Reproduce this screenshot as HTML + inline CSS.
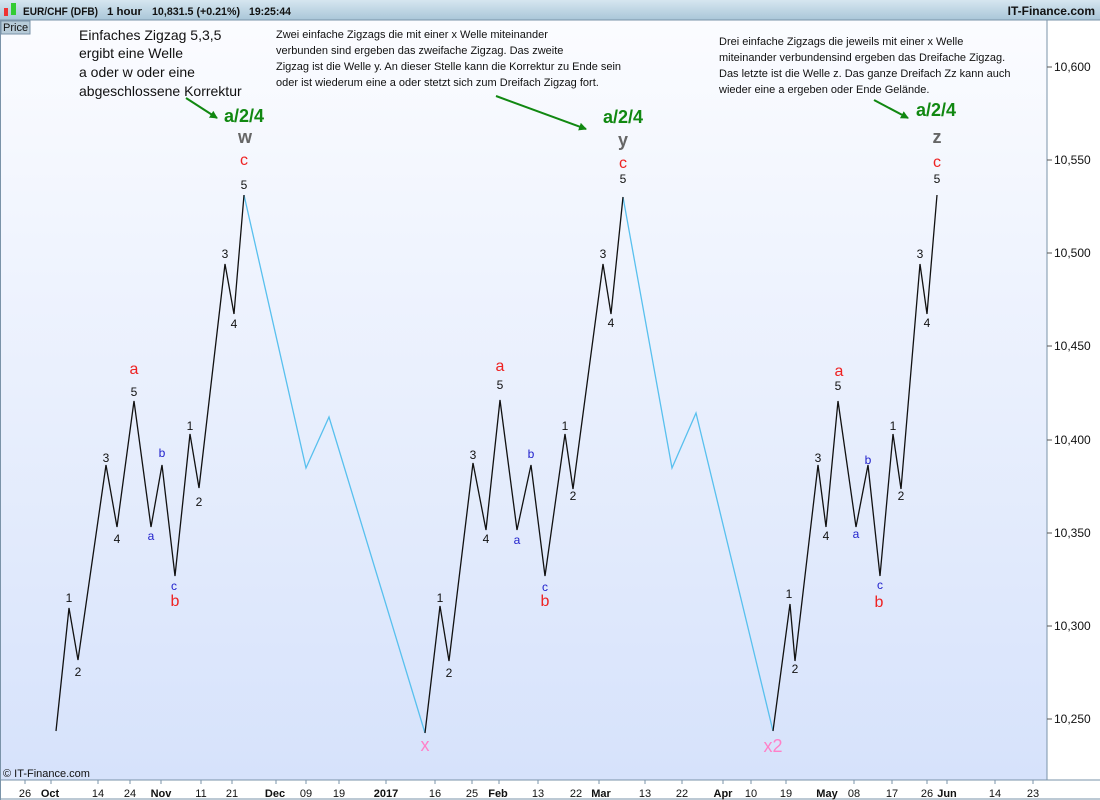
<!DOCTYPE html>
<html><head><meta charset="utf-8"><style>
html,body{margin:0;padding:0;width:1100px;height:800px;overflow:hidden;background:#fff;font-family:"Liberation Sans",sans-serif}
</style></head><body>
<svg width="1100" height="800" xmlns="http://www.w3.org/2000/svg" font-family="Liberation Sans, sans-serif">
<defs>
<linearGradient id="bg" x1="0" y1="0" x2="0" y2="1"><stop offset="0" stop-color="#fbfcff"/><stop offset="1" stop-color="#d6e2fb"/></linearGradient>
<linearGradient id="hd" x1="0" y1="0" x2="0" y2="1"><stop offset="0" stop-color="#d6e6f0"/><stop offset="1" stop-color="#a9c6d8"/></linearGradient>
<marker id="ah" markerWidth="8" markerHeight="8" refX="7" refY="4" orient="auto" markerUnits="userSpaceOnUse"><path d="M0,0 L8,4 L0,8 z" fill="#118811"/></marker>
</defs>
<rect width="1100" height="800" fill="#fff"/>
<rect x="1" y="20" width="1046" height="760" fill="url(#bg)"/>
<rect x="0" y="0" width="1100" height="20" fill="url(#hd)"/>
<line x1="0" y1="20" x2="1100" y2="20" stroke="#7a93a8"/>
<rect x="4" y="8" width="4" height="8" fill="#e33"/><rect x="11" y="3" width="5" height="12" fill="#3c3"/>
<g font-size="11" font-weight="bold" fill="#111">
<text x="23" y="15" textLength="75" lengthAdjust="spacingAndGlyphs">EUR/CHF (DFB)</text><text x="107" y="15" textLength="35" lengthAdjust="spacingAndGlyphs">1 hour</text><text x="152" y="15" textLength="88" lengthAdjust="spacingAndGlyphs">10,831.5 (+0.21%)</text><text x="249" y="15" textLength="42" lengthAdjust="spacingAndGlyphs">19:25:44</text>
</g>
<text x="1095" y="15" font-size="12" font-weight="bold" fill="#111" text-anchor="end">IT-Finance.com</text>
<rect x="1" y="21" width="29" height="13" fill="#b7cbd8" stroke="#7a93a8"/>
<text x="3" y="31" font-size="11" fill="#111">Price</text>
<line x1="1047" y1="20" x2="1047" y2="780" stroke="#7a93a8"/>
<line x1="0" y1="780" x2="1100" y2="780" stroke="#7a93a8"/>
<line x1="0" y1="799" x2="1100" y2="799" stroke="#7a93a8"/>
<rect x="0" y="20" width="1" height="780" fill="#7a93a8"/>
<g font-size="12" fill="#111">
<line x1="1047" y1="67" x2="1052" y2="67" stroke="#555"/><text x="1054" y="71">10,600</text>
<line x1="1047" y1="160" x2="1052" y2="160" stroke="#555"/><text x="1054" y="164">10,550</text>
<line x1="1047" y1="253" x2="1052" y2="253" stroke="#555"/><text x="1054" y="257">10,500</text>
<line x1="1047" y1="346" x2="1052" y2="346" stroke="#555"/><text x="1054" y="350">10,450</text>
<line x1="1047" y1="440" x2="1052" y2="440" stroke="#555"/><text x="1054" y="444">10,400</text>
<line x1="1047" y1="533" x2="1052" y2="533" stroke="#555"/><text x="1054" y="537">10,350</text>
<line x1="1047" y1="626" x2="1052" y2="626" stroke="#555"/><text x="1054" y="630">10,300</text>
<line x1="1047" y1="719" x2="1052" y2="719" stroke="#555"/><text x="1054" y="723">10,250</text>
</g>
<g font-size="11" fill="#111" text-anchor="middle">
<text x="25" y="797">26</text><text x="50" y="797" font-weight="bold">Oct</text><text x="98" y="797">14</text><text x="130" y="797">24</text><text x="161" y="797" font-weight="bold">Nov</text><text x="201" y="797">11</text><text x="232" y="797">21</text><text x="275" y="797" font-weight="bold">Dec</text><text x="306" y="797">09</text><text x="339" y="797">19</text><text x="386" y="797" font-weight="bold">2017</text><text x="435" y="797">16</text><text x="472" y="797">25</text><text x="498" y="797" font-weight="bold">Feb</text><text x="538" y="797">13</text><text x="576" y="797">22</text><text x="601" y="797" font-weight="bold">Mar</text><text x="645" y="797">13</text><text x="682" y="797">22</text><text x="723" y="797" font-weight="bold">Apr</text><text x="751" y="797">10</text><text x="786" y="797">19</text><text x="827" y="797" font-weight="bold">May</text><text x="854" y="797">08</text><text x="892" y="797">17</text><text x="927" y="797">26</text><text x="947" y="797" font-weight="bold">Jun</text><text x="995" y="797">14</text><text x="1033" y="797">23</text>
</g>
<g stroke="#7a93a8">
<line x1="25" y1="780" x2="25" y2="784"/><line x1="51" y1="780" x2="51" y2="784"/><line x1="98" y1="780" x2="98" y2="784"/><line x1="130" y1="780" x2="130" y2="784"/><line x1="161" y1="780" x2="161" y2="784"/><line x1="201" y1="780" x2="201" y2="784"/><line x1="232" y1="780" x2="232" y2="784"/><line x1="276" y1="780" x2="276" y2="784"/><line x1="306" y1="780" x2="306" y2="784"/><line x1="339" y1="780" x2="339" y2="784"/><line x1="386" y1="780" x2="386" y2="784"/><line x1="435" y1="780" x2="435" y2="784"/><line x1="472" y1="780" x2="472" y2="784"/><line x1="499" y1="780" x2="499" y2="784"/><line x1="538" y1="780" x2="538" y2="784"/><line x1="599" y1="780" x2="599" y2="784"/><line x1="645" y1="780" x2="645" y2="784"/><line x1="682" y1="780" x2="682" y2="784"/><line x1="723" y1="780" x2="723" y2="784"/><line x1="751" y1="780" x2="751" y2="784"/><line x1="786" y1="780" x2="786" y2="784"/><line x1="854" y1="780" x2="854" y2="784"/><line x1="892" y1="780" x2="892" y2="784"/><line x1="927" y1="780" x2="927" y2="784"/><line x1="947" y1="780" x2="947" y2="784"/><line x1="995" y1="780" x2="995" y2="784"/><line x1="1033" y1="780" x2="1033" y2="784"/>
</g>
<text x="3" y="777" font-size="11" fill="#111">© IT-Finance.com</text>
<g fill="none" stroke-width="1.3">
<polyline stroke="#58c0ee" points="244,195 306,468 329,417 425,733"/>
<polyline stroke="#58c0ee" points="623,197 672,468 696,413 773,731"/>
<polyline stroke="#111" points="56,731 69,608 78,660 106,465 117,527 134,401 151,527 162,465 175,576 190,434 199,488 225,264 234,314 244,195"/>
<polyline stroke="#111" points="425,733 440,606 449,661 473,463 486,530 500,400 517,530 531,465 545,576 565,434 573,489 603,264 611,314 623,197"/>
<polyline stroke="#111" points="773,731 790,604 795,661 818,465 826,527 838,401 856,527 868,465 880,576 893,434 901,489 920,264 927,314 937,195"/>
</g>
<g font-size="12" fill="#111" text-anchor="middle">
<text x="69" y="602">1</text><text x="78" y="676">2</text><text x="106" y="462">3</text><text x="117" y="543">4</text><text x="134" y="396">5</text><text x="190" y="430">1</text><text x="199" y="506">2</text><text x="225" y="258">3</text><text x="234" y="328">4</text><text x="244" y="189">5</text>
<text x="440" y="602">1</text><text x="449" y="677">2</text><text x="473" y="459">3</text><text x="486" y="543">4</text><text x="500" y="389">5</text><text x="565" y="430">1</text><text x="573" y="500">2</text><text x="603" y="258">3</text><text x="611" y="327">4</text><text x="623" y="183">5</text>
<text x="789" y="598">1</text><text x="795" y="673">2</text><text x="818" y="462">3</text><text x="826" y="540">4</text><text x="838" y="390">5</text><text x="893" y="430">1</text><text x="901" y="500">2</text><text x="920" y="258">3</text><text x="927" y="327">4</text><text x="937" y="183">5</text>
</g>
<g font-size="12" fill="#22c" text-anchor="middle">
<text x="151" y="540">a</text><text x="162" y="457">b</text><text x="174" y="590">c</text>
<text x="517" y="544">a</text><text x="531" y="458">b</text><text x="545" y="591">c</text>
<text x="856" y="538">a</text><text x="868" y="464">b</text><text x="880" y="589">c</text>
</g>
<g font-size="16" fill="#e22" text-anchor="middle">
<text x="134" y="374">a</text><text x="175" y="606">b</text><text x="244" y="165">c</text>
<text x="500" y="371">a</text><text x="545" y="606">b</text><text x="623" y="168">c</text>
<text x="839" y="376">a</text><text x="879" y="607">b</text><text x="937" y="167">c</text>
</g>
<g font-size="18" fill="#666" font-weight="bold" text-anchor="middle">
<text x="245" y="143">w</text><text x="623" y="146">y</text><text x="937" y="143">z</text>
</g>
<g font-size="18" fill="#ff80c8" text-anchor="middle">
<text x="425" y="751">x</text><text x="773" y="752">x2</text>
</g>
<g font-size="18" fill="#118811" font-weight="bold">
<text x="224" y="122">a/2/4</text><text x="603" y="123">a/2/4</text><text x="916" y="116">a/2/4</text>
</g>
<g stroke="#118811" stroke-width="2" marker-end="url(#ah)">
<line x1="186" y1="98" x2="217" y2="118"/><line x1="496" y1="96" x2="586" y2="129"/><line x1="874" y1="100" x2="908" y2="118"/>
</g>
<g font-size="14" fill="#111">
<text x="79" y="40">Einfaches Zigzag 5,3,5</text><text x="79" y="58">ergibt eine Welle</text><text x="79" y="77">a oder w oder eine</text><text x="79" y="96">abgeschlossene Korrektur</text>
</g>
<g font-size="11" fill="#111">
<text x="276" y="38">Zwei einfache Zigzags die mit einer x Welle miteinander</text>
<text x="276" y="54">verbunden sind ergeben das zweifache Zigzag. Das zweite</text>
<text x="276" y="70">Zigzag ist die Welle y. An dieser Stelle kann die Korrektur zu Ende sein</text>
<text x="276" y="86">oder ist wiederum eine a oder stetzt sich zum Dreifach Zigzag  fort.</text>
<text x="719" y="45">Drei einfache Zigzags die jeweils mit einer x Welle</text>
<text x="719" y="61">miteinander verbundensind ergeben das Dreifache Zigzag.</text>
<text x="719" y="77">Das letzte ist die Welle z. Das ganze Dreifach Zz kann auch</text>
<text x="719" y="93">wieder eine a ergeben oder Ende Gelände.</text>
</g>
</svg>
</body></html>
